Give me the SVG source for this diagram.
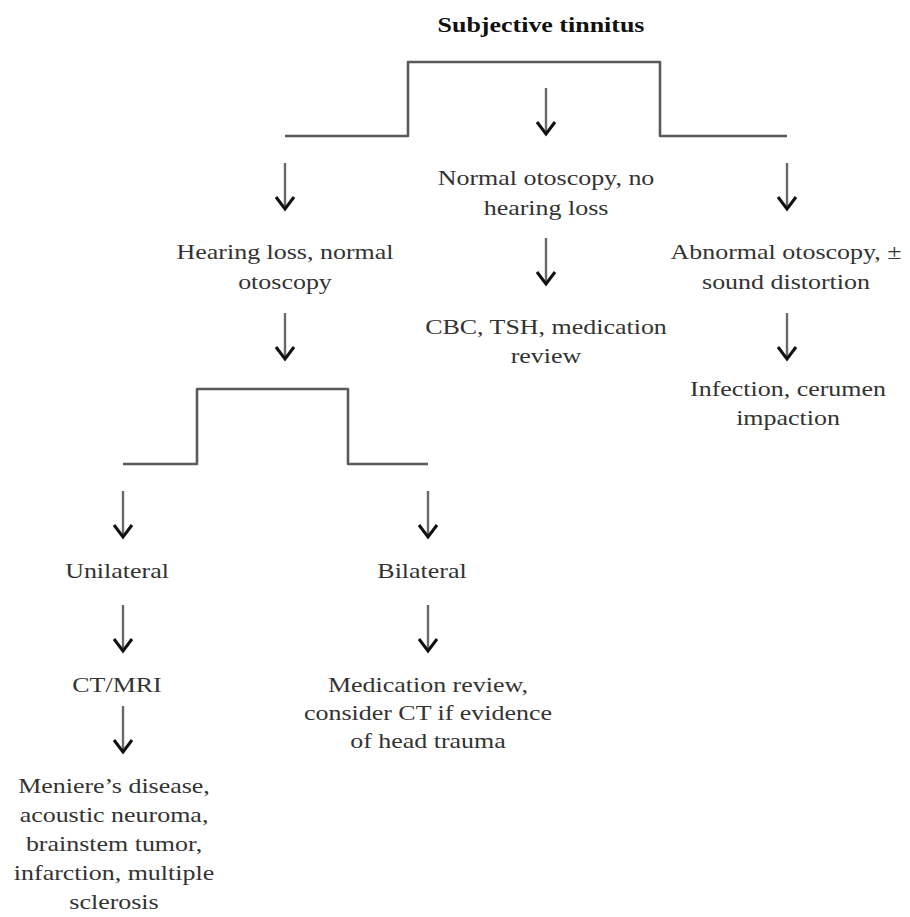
<svg xmlns="http://www.w3.org/2000/svg" width="910" height="917" viewBox="0 0 910 917">
<style>
  text { font-family: "Liberation Serif", "Times New Roman", serif; font-size: 22px; fill: #333; text-anchor: middle; }
  .title { font-weight: bold; fill: #111; }
  .line { fill: none; stroke: #5a5a5a; stroke-width: 2.6; stroke-linejoin: round; }
  .shaft { stroke: #6a6a6a; stroke-width: 2.4; }
  .head { fill: none; stroke: #111; stroke-width: 3; stroke-linejoin: miter; }
</style>
<defs>
  <g id="arrow">
    <line class="shaft" x1="0" y1="0" x2="0" y2="46"/>
    <polyline class="head" points="-9,34 0,46 9,34"/>
  </g>
</defs>
<rect width="910" height="917" fill="#fff"/>

<g id="connectors">
  <path class="line" d="M285,136 H408 V62 H660 V136 H787"/>
  <path class="line" d="M123,464 H197 V389 H348 V464 H428"/>
  <use href="#arrow" x="546" y="88"/>
  <use href="#arrow" x="285" y="163"/>
  <use href="#arrow" x="787" y="163"/>
  <use href="#arrow" x="546" y="238"/>
  <use href="#arrow" x="285" y="313"/>
  <use href="#arrow" x="787" y="313"/>
  <use href="#arrow" x="123" y="491"/>
  <use href="#arrow" x="428" y="491"/>
  <use href="#arrow" x="123" y="605"/>
  <use href="#arrow" x="428" y="605"/>
  <use href="#arrow" x="123" y="706"/>
</g>

<g id="n-title" transform="translate(541,0) scale(1.18,1)">
  <text class="title" x="0" y="32">Subjective tinnitus</text>
</g>
<g id="n-normal" transform="translate(546,0) scale(1.18,1)">
  <text x="0" y="185">Normal otoscopy, no</text>
  <text x="0" y="215">hearing loss</text>
</g>
<g id="n-hearing" transform="translate(285,0) scale(1.18,1)">
  <text x="0" y="259">Hearing loss, normal</text>
  <text x="0" y="289">otoscopy</text>
</g>
<g id="n-abnormal" transform="translate(786,0) scale(1.18,1)">
  <text x="0" y="259">Abnormal otoscopy, ±</text>
  <text x="0" y="289">sound distortion</text>
</g>
<g id="n-cbc" transform="translate(546,0) scale(1.18,1)">
  <text x="0" y="334">CBC, TSH, medication</text>
  <text x="0" y="363">review</text>
</g>
<g id="n-infection" transform="translate(788,0) scale(1.18,1)">
  <text x="0" y="396">Infection, cerumen</text>
  <text x="0" y="425">impaction</text>
</g>
<g id="n-unilateral" transform="translate(117,0) scale(1.18,1)">
  <text x="0" y="578">Unilateral</text>
</g>
<g id="n-bilateral" transform="translate(422,0) scale(1.18,1)">
  <text x="0" y="578">Bilateral</text>
</g>
<g id="n-ctmri" transform="translate(117,0) scale(1.18,1)">
  <text x="0" y="692">CT/MRI</text>
</g>
<g id="n-medication" transform="translate(428,0) scale(1.18,1)">
  <text x="0" y="692">Medication review,</text>
  <text x="0" y="720">consider CT if evidence</text>
  <text x="0" y="748">of head trauma</text>
</g>
<g id="n-meniere" transform="translate(114,0) scale(1.18,1)">
  <text x="0" y="793">Meniere’s disease,</text>
  <text x="0" y="822">acoustic neuroma,</text>
  <text x="0" y="851">brainstem tumor,</text>
  <text x="0" y="880">infarction, multiple</text>
  <text x="0" y="909">sclerosis</text>
</g>
</svg>
